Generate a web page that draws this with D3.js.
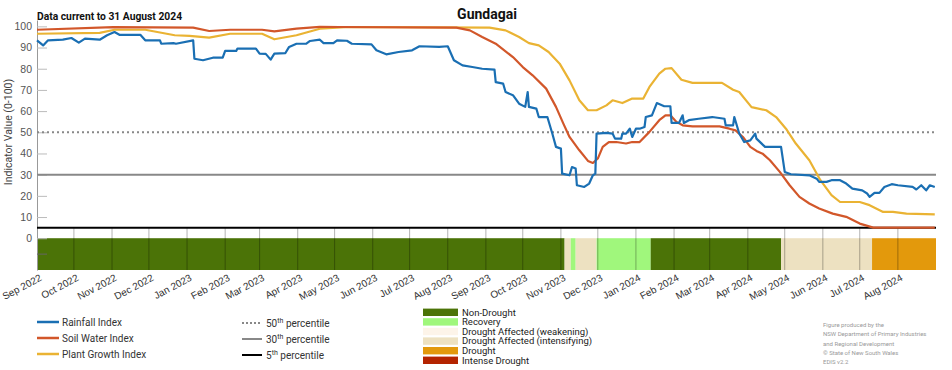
<!DOCTYPE html>
<html>
<head>
<meta charset="utf-8">
<script src="https://cdn.jsdelivr.net/npm/d3@7"></script>
<style>
    body { margin: 0; background: #fff; }
    svg { font-family: Roboto, "Liberation Sans", sans-serif; display: block; }
</style>
</head>
<body>
<div id="chart"></div>
<script>
// rainfall index (date, value)
var rainfall = [
    ["2022-09-01",93.4],["2022-09-06",91.0],["2022-09-10",93.4],["2022-09-22",93.7],["2022-09-29",94.5],
    ["2022-10-05",92.3],["2022-10-10",94.2],["2022-10-22",93.7],["2022-10-28",95.8],["2022-11-03",97.3],
    ["2022-11-07",96.0],["2022-11-24",96.0],["2022-11-28",93.4],["2022-12-10",93.4],["2022-12-11",91.8],
    ["2022-12-21",92.1],["2022-12-23",91.8],["2023-01-06",93.4],["2023-01-07",84.7],["2023-01-14",84.0],
    ["2023-01-22",85.2],["2023-01-30",85.2],["2023-02-01",88.4],["2023-02-10",88.4],["2023-02-11",89.5],
    ["2023-02-26",89.5],["2023-03-01",87.1],["2023-03-06",87.0],["2023-03-10",84.3],["2023-03-13",87.1],
    ["2023-03-22",87.4],["2023-03-25",90.3],["2023-03-31",91.8],["2023-04-08",91.8],["2023-04-11",93.1],
    ["2023-04-19",93.7],["2023-04-22",92.1],["2023-04-30",92.1],["2023-05-03",93.4],["2023-05-11",93.2],
    ["2023-05-15",91.8],["2023-05-31",91.5],["2023-06-04",88.7],["2023-06-12",86.8],["2023-06-22",87.9],
    ["2023-07-03",88.7],["2023-07-09",90.6],["2023-07-25",90.3],["2023-08-01",90.6],["2023-08-06",84.0],
    ["2023-08-13",81.6],["2023-08-21",80.8],["2023-08-29",80.0],["2023-09-08",79.6],["2023-09-09",73.7],
    ["2023-09-15",73.0],["2023-09-17",69.0],["2023-09-23",67.5],["2023-09-28",63.5],["2023-10-03",62.0],
    ["2023-10-05",69.0],["2023-10-06",62.0],["2023-10-12",61.2],["2023-10-14",57.2],["2023-10-21",57.2],
    ["2023-10-25",49.4],["2023-10-28",43.1],["2023-11-01",42.3],["2023-11-02",30.5],["2023-11-08",29.7],
    ["2023-11-10",33.6],["2023-11-13",32.9],["2023-11-14",25.0],["2023-11-20",24.2],["2023-11-24",25.8],
    ["2023-11-27",29.7],["2023-11-29",30.5],["2023-11-30",49.4],["2023-12-08",49.7],["2023-12-13",49.4],
    ["2023-12-15",47.0],["2023-12-20",47.0],["2023-12-21",49.4],["2023-12-24",49.4],["2023-12-27",51.7],
    ["2023-12-29",47.8],["2024-01-01",51.7],["2024-01-04",51.7],["2024-01-08",52.5],["2024-01-09",57.2],
    ["2024-01-14",58.0],["2024-01-18",63.8],["2024-01-24",62.3],["2024-01-29",62.3],["2024-01-30",54.4],
    ["2024-02-05",54.4],["2024-02-08",58.0],["2024-02-09",54.4],["2024-02-13",55.7],["2024-02-21",56.4],
    ["2024-03-03",57.2],["2024-03-13",56.4],["2024-03-14",53.3],["2024-03-20",53.3],["2024-03-21",57.2],
    ["2024-03-25",49.4],["2024-03-29",45.4],["2024-04-03",46.2],["2024-04-07",49.4],["2024-04-08",47.0],
    ["2024-04-15",43.1],["2024-04-28",43.1],["2024-05-01",31.3],["2024-05-06",30.2],["2024-05-21",29.7],
    ["2024-05-27",28.1],["2024-05-29",26.6],["2024-06-04",26.6],["2024-06-08",27.4],["2024-06-15",27.4],
    ["2024-06-20",25.8],["2024-06-25",23.4],["2024-07-03",22.6],["2024-07-07",21.1],["2024-07-09",19.5],
    ["2024-07-13",21.4],["2024-07-17",21.4],["2024-07-21",24.2],["2024-07-27",25.5],["2024-08-01",25.0],
    ["2024-08-13",24.2],["2024-08-16",23.0],["2024-08-20",25.0],["2024-08-24",22.6],["2024-08-27",25.0],
    ["2024-08-31",24.2]
];

// soil water index
var soilWater = [
    ["2022-09-01",98.4],["2022-11-02",99.6],["2023-01-06",99.4],["2023-01-19",97.8],["2023-02-05",98.4],
    ["2023-03-03",98.4],["2023-03-13",97.6],["2023-03-31",98.9],["2023-04-19",99.8],["2023-05-05",99.7],
    ["2023-08-08",99.4],["2023-08-19",98.1],["2023-08-29",95.0],["2023-09-09",91.8],["2023-09-23",85.5],
    ["2023-10-01",80.8],["2023-10-09",76.9],["2023-10-20",70.6],["2023-10-28",62.0],["2023-11-03",54.1],
    ["2023-11-08",47.8],["2023-11-16",41.5],["2023-11-23",36.5],["2023-11-27",35.5],["2023-12-01",37.6],
    ["2023-12-05",43.1],["2023-12-10",45.4],["2023-12-16",45.4],["2023-12-24",44.7],["2023-12-29",45.4],
    ["2024-01-04",45.4],["2024-01-12",50.2],["2024-01-20",55.7],["2024-01-25",58.0],["2024-01-29",58.0],
    ["2024-02-03",54.9],["2024-02-08",53.3],["2024-02-16",52.8],["2024-03-09",52.8],["2024-03-17",51.7],
    ["2024-03-22",50.9],["2024-03-28",47.8],["2024-04-03",43.1],["2024-04-08",41.2],["2024-04-13",39.9],
    ["2024-04-19",36.8],["2024-04-27",31.3],["2024-05-05",25.0],["2024-05-13",19.5],["2024-05-21",16.4],
    ["2024-05-29",14.0],["2024-06-09",11.6],["2024-06-20",10.1],["2024-07-01",6.9],["2024-07-12",5.0],
    ["2024-08-31",5.0]
];

// plant growth index
var plantGrowth = [
    ["2022-09-01",96.5],["2022-10-22",96.9],["2022-11-03",98.4],["2022-11-28",98.4],["2022-12-22",95.8],
    ["2023-01-03",95.5],["2023-01-19",94.7],["2023-02-05",96.5],["2023-03-03",96.5],["2023-03-13",93.9],
    ["2023-03-31",95.8],["2023-04-19",98.9],["2023-05-13",99.7],["2023-09-04",99.4],["2023-09-17",98.1],
    ["2023-09-28",95.0],["2023-10-06",92.1],["2023-10-14",91.0],["2023-10-22",87.9],["2023-10-31",82.4],
    ["2023-11-08",74.5],["2023-11-16",65.1],["2023-11-23",60.4],["2023-11-30",60.4],["2023-12-08",62.7],
    ["2023-12-13",65.1],["2023-12-21",63.8],["2023-12-29",65.9],["2024-01-07",65.9],["2024-01-12",71.4],
    ["2024-01-20",77.7],["2024-01-25",80.0],["2024-01-30",80.3],["2024-02-07",74.8],["2024-02-16",73.3],
    ["2024-03-11",73.3],["2024-03-20",70.1],["2024-03-25",69.0],["2024-04-04",61.9],["2024-04-16",60.4],
    ["2024-04-24",57.2],["2024-05-02",51.7],["2024-05-10",44.7],["2024-05-21",36.8],["2024-05-30",27.4],
    ["2024-06-08",20.3],["2024-06-15",17.1],["2024-07-01",17.1],["2024-07-09",15.6],["2024-07-20",12.4],
    ["2024-07-28",12.4],["2024-08-08",11.6],["2024-08-31",11.3]
];

// drought stage bar: start date of each period and its stage
var bandStarts = ["2022-09-01","2023-11-04","2023-11-09","2023-11-13","2023-11-30","2024-01-13","2024-04-28","2024-07-11"];
var bandStages = ["Non-Drought","Drought Affected (intensifying)","Recovery","Drought Affected (intensifying)",
                  "Recovery","Non-Drought","Drought Affected (intensifying)","Drought"];
var bandEnd = "2024-09-01";

var stageNames = ["Non-Drought","Recovery","Drought Affected (weakening)","Drought Affected (intensifying)","Drought","Intense Drought"];
var stageColours = ["#4b7307","#a0f77c","#fdf4e9","#ede1c1","#e3990c","#b42400"];

var seriesNames = ["Rainfall Index","Soil Water Index","Plant Growth Index"];
var seriesColours = ["#1a6fb3","#d2572a","#eab333"];

var percentiles = [50, 30, 5];
var yTicks = [0,10,20,30,40,50,60,70,80,90,100];

var creditLines = ["Figure produced by the","NSW Department of Primary Industries","and Regional Development",
                   "\u00a9 State of New South Wales","EDIS v2.2"];

// 画布
var width = 952, height = 370;
var parse = d3.timeParse("%Y-%m-%d");

var svg = d3.select("#chart").append("svg")
    .attr("width", width)
    .attr("height", height);

var xScale = d3.scaleTime()
    .domain([parse("2022-09-01"), parse(bandEnd)])
    .range([37, 936]);

var yScale = d3.scaleLinear()
    .domain([-15, 103])
    .range([270, 20]);

// drought stage band
var bands = bandStarts.map(function(d, i) {
    return { start: parse(d), end: parse(i < bandStarts.length - 1 ? bandStarts[i + 1] : bandEnd), stage: bandStages[i] };
});
svg.selectAll(".band")
    .data(bands)
    .enter()
    .append("rect")
    .attr("class", "band")
    .attr("x", function(d) { return xScale(d.start); })
    .attr("width", function(d) { return xScale(d.end) - xScale(d.start); })
    .attr("y", yScale(0))
    .attr("height", yScale(-15) - yScale(0))
    .attr("fill", function(d) { return stageColours[stageNames.indexOf(d.stage)]; });

// month grid lines (below 5th percentile)
var months = d3.timeMonth.range(parse("2022-09-01"), parse(bandEnd));
svg.selectAll(".mgrid")
    .data(months.slice(1))
    .enter()
    .append("line")
    .attr("x1", function(d) { return xScale(d); })
    .attr("x2", function(d) { return xScale(d); })
    .attr("y1", yScale(5))
    .attr("y2", yScale(-15))
    .attr("stroke", "#000")
    .attr("stroke-opacity", 0.3)
    .attr("stroke-width", 1);

// y axis
var yAxis = d3.axisLeft(yScale)
    .tickValues(yTicks)
    .tickSizeInner(-10)
    .tickSizeOuter(0)
    .tickPadding(5);
var gy = svg.append("g")
    .attr("transform", "translate(37,0)")
    .call(yAxis);
gy.select(".domain").attr("stroke", "#999");
gy.selectAll(".tick line").attr("stroke", "#bbb");
gy.selectAll(".tick text").attr("fill", "#555").attr("font-size", 10.5);
gy.append("line")
    .attr("x1", 0).attr("x2", 10)
    .attr("y1", yScale(-7.5)).attr("y2", yScale(-7.5))
    .attr("stroke", "#666");

// percentile lines
svg.selectAll(".pct")
    .data(percentiles)
    .enter()
    .append("line")
    .attr("x1", 37)
    .attr("x2", 936)
    .attr("y1", function(d) { return yScale(d); })
    .attr("y2", function(d) { return yScale(d); })
    .attr("stroke", function(d) { return d == 5 ? "#000" : "#888"; })
    .attr("stroke-width", 2)
    .attr("stroke-dasharray", function(d) { return d == 50 ? "2,3" : null; });

// index lines
var line = d3.line()
    .x(function(d) { return xScale(parse(d[0])); })
    .y(function(d) { return yScale(d[1]); });

[plantGrowth, soilWater, rainfall].forEach(function(s, i) {
    svg.append("path")
        .datum(s)
        .attr("fill", "none")
        .attr("stroke", seriesColours[2 - i])
        .attr("stroke-width", 2.2)
        .attr("stroke-linejoin", "round")
        .attr("d", line);
});

// x axis
var xAxis = d3.axisBottom(xScale)
    .tickValues(months)
    .tickFormat(d3.timeFormat("%b %Y"))
    .tickSize(0);
var gx = svg.append("g")
    .attr("transform", "translate(0,270)")
    .call(xAxis);
gx.select(".domain").remove();
gx.selectAll(".tick text")
    .attr("fill", "#333")
    .attr("font-size", 10)
    .attr("text-anchor", "end")
    .attr("x", 0).attr("y", 0).attr("dy", 0)
    .attr("transform", "translate(5,10) rotate(-28)");

// titles
svg.append("text")
    .attr("x", 487).attr("y", 19)
    .attr("text-anchor", "middle")
    .attr("font-size", 14).attr("font-weight", "bold")
    .attr("fill", "#111")
    .text("Gundagai");
svg.append("text")
    .attr("x", 37).attr("y", 20)
    .attr("font-size", 10.3).attr("font-weight", "bold")
    .attr("fill", "#111")
    .text("Data current to 31 August 2024");
svg.append("text")
    .attr("transform", "translate(12,132) rotate(-90)")
    .attr("text-anchor", "middle")
    .attr("font-size", 10.5)
    .attr("fill", "#444")
    .text("Indicator Value (0-100)");

// legend: index lines
var lg = svg.append("g");
seriesNames.forEach(function(n, i) {
    var y = 322 + i * 16;
    lg.append("line").attr("x1", 37).attr("x2", 59).attr("y1", y).attr("y2", y)
        .attr("stroke", seriesColours[i]).attr("stroke-width", 2.5);
    lg.append("text").attr("x", 62).attr("y", y + 3.5)
        .attr("font-size", 10).attr("fill", "#333").text(n);
});

// legend: percentiles
percentiles.forEach(function(p, i) {
    var y = 323 + i * 16;
    lg.append("line").attr("x1", 242).attr("x2", 262).attr("y1", y).attr("y2", y)
        .attr("stroke", p == 5 ? "#000" : "#888").attr("stroke-width", 2)
        .attr("stroke-dasharray", p == 50 ? "2,2" : null);
    var t = lg.append("text").attr("x", 266).attr("y", y + 4)
        .attr("font-size", 10).attr("fill", "#333");
    t.append("tspan").text(p);
    t.append("tspan").attr("font-size", 7).attr("dy", -4).text("th");
    t.append("tspan").attr("dy", 4).text(" percentile");
});

// legend: drought stages
stageNames.forEach(function(n, i) {
    var y = 312.3 + i * 9.6;
    lg.append("rect").attr("x", 423).attr("y", y - 3.7).attr("width", 35).attr("height", 7.4)
        .attr("fill", stageColours[i]);
    lg.append("text").attr("x", 462).attr("y", y + 3.3)
        .attr("font-size", 9.5).attr("fill", "#222").text(n);
});

// credit
creditLines.forEach(function(c, i) {
    svg.append("text").attr("x", 823).attr("y", 327 + i * 9.3)
        .attr("font-size", 6).attr("fill", "#999").text(c);
});
</script>
</body>
</html>
